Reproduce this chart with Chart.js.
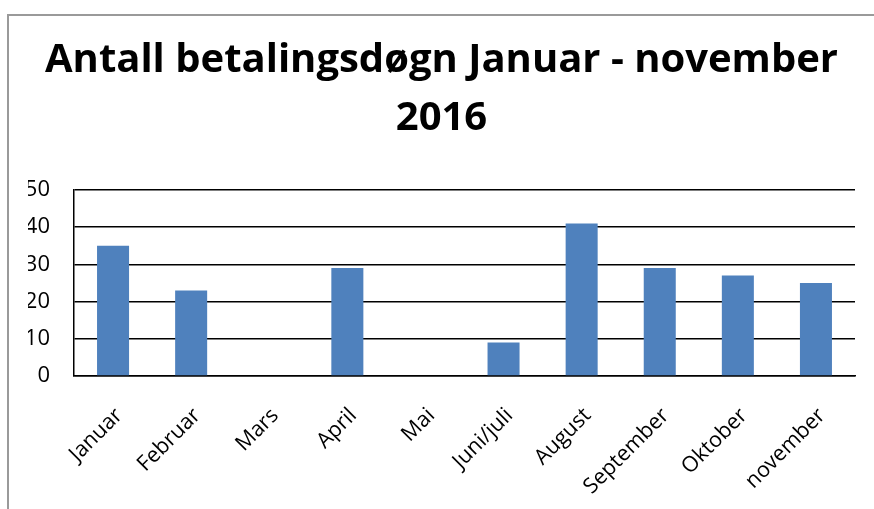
<!DOCTYPE html>
<html>
<head>
<meta charset="utf-8">
<script src="https://cdn.jsdelivr.net/npm/chart.js@4.4.1/dist/chart.umd.min.js"></script>
<style>
  html, body { margin: 0; padding: 0; background: #fff; }
  body { width: 874px; height: 509px; position: relative; overflow: hidden; }
  .frame {
    position: absolute; left: 7px; top: 14px; width: 867px; height: 495px;
    border-left: 2px solid #9a9a9a; border-top: 2px solid #9a9a9a;
  }
  .frame canvas { position: absolute; left: 0; top: 0; }
</style>
</head>
<body>
<div class="frame">
  <canvas id="chart" width="865" height="493"></canvas>
</div>
<script>
// months shown on the x axis
const months = ["Januar", "Februar", "Mars", "April", "Mai", "Juni/juli",
  "August", "September", "Oktober", "november"];
// number of payment days per month (Mars and Mai are empty)
const days = [35, 23, 0, 29, 0, 9, 41, 29, 27, 25];
const yTicks = [0, 10, 20, 30, 40, 50];
const titleLines = ["Antall betalingsdøgn Januar - november", "2016"];

const ctx = document.getElementById("chart").getContext("2d");

new Chart(ctx, {
  type: "bar",
  data: {
    labels: months,
    datasets: [
      {
        label: "Antall betalingsdøgn",
        data: days,
        backgroundColor: "#4F81BD",
        borderWidth: 0,
        barPercentage: 0.41,
        categoryPercentage: 1,
      },
    ],
  },
  options: {
    responsive: false,
    animation: false,
    // equal side padding keeps the title centred in the frame
    layout: { padding: { left: 19, right: 19, top: 0, bottom: 5 } },
    plugins: {
      legend: { display: false },
      tooltip: { enabled: false },
      title: {
        display: true,
        text: titleLines,
        color: "#000",
        font: { family: "Open Sans", size: 40, weight: "bold", lineHeight: 1.45 },
        padding: { top: 16, bottom: 42 },
      },
    },
    scales: {
      x: {
        type: "category",
        grid: { display: false, drawTicks: false },
        border: { display: true, color: "#000", width: 1.5 },
        ticks: {
          color: "#000",
          font: { family: "Open Sans", size: 21.5 },
          minRotation: 45,
          maxRotation: 45,
          padding: 27,
          labelOffset: 6,
          autoSkip: false,
        },
        afterFit: (scale) => { scale.height = 128; },
      },
      y: {
        min: 0,
        max: 50,
        afterBuildTicks: (scale) => { scale.ticks = yTicks.map((v) => ({ value: v })); },
        grid: { color: "#000", lineWidth: 1.5, drawTicks: false },
        border: { display: true, color: "#000", width: 1.5 },
        ticks: {
          color: "#000",
          font: { family: "Open Sans", size: 22 },
          padding: 24,
        },
        afterFit: (scale) => { scale.width = 46; },
      },
    },
  },
});
</script>
</body>
</html>
